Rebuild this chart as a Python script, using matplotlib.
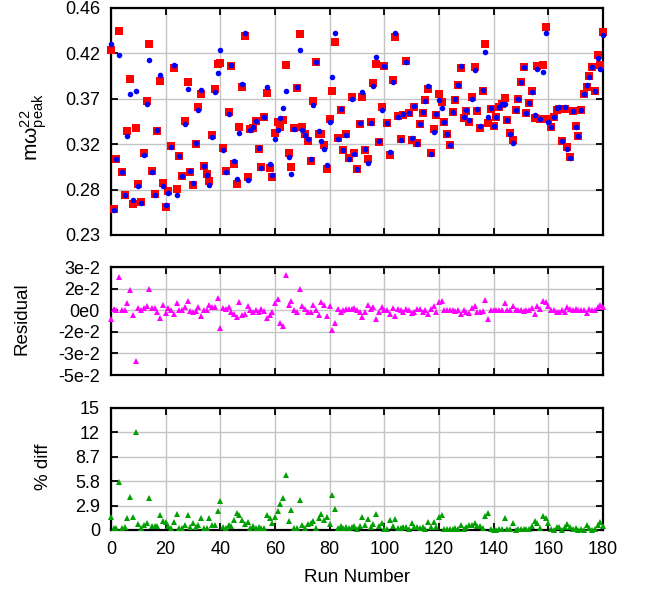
import matplotlib
matplotlib.use('Agg')
import matplotlib.pyplot as plt

plt.rcParams['font.family'] = ['Liberation Sans', 'DejaVu Sans']
plt.rcParams['mathtext.fontset'] = 'custom'
plt.rcParams['mathtext.rm'] = 'Liberation Sans'
plt.rcParams['mathtext.it'] = 'Liberation Sans'

runs = list(range(181))

# red squares (series 1)
red_vals = [
    0.4171, 0.2560, 0.3067, 0.4367, 0.2935, 0.2706, 0.3357, 0.3877, 0.2614, 0.3380,
    0.2814, 0.2630, 0.3134, 0.3654, 0.4232, 0.2952, 0.2716, 0.3354, 0.3857, 0.2830,
    0.2584, 0.2750, 0.3198, 0.3989, 0.2763, 0.3100, 0.2898, 0.3455, 0.3850, 0.2942,
    0.2807, 0.3222, 0.3597, 0.3725, 0.3000, 0.2915, 0.2847, 0.3317, 0.3776, 0.4029,
    0.4040, 0.3178, 0.2952, 0.3550, 0.4012, 0.3016, 0.2814, 0.3391, 0.3796, 0.4316,
    0.2888, 0.3371, 0.3381, 0.3455, 0.3172, 0.2986, 0.3492, 0.3735, 0.2979, 0.2888,
    0.3330, 0.3442, 0.3394, 0.3465, 0.4019, 0.3128, 0.2986, 0.3384, 0.3790, 0.4333,
    0.3391, 0.3320, 0.3256, 0.3050, 0.3654, 0.4053, 0.3320, 0.3320, 0.3209, 0.2969,
    0.3475, 0.3759, 0.4252, 0.3280, 0.3567, 0.3161, 0.3320, 0.3077, 0.3695, 0.3134,
    0.2966, 0.3421, 0.3695, 0.3158, 0.3067, 0.3448, 0.3837, 0.4033, 0.3239, 0.3594,
    0.4012, 0.3435, 0.3110, 0.3867, 0.4303, 0.3506, 0.3270, 0.3512, 0.4060, 0.3533,
    0.3263, 0.3594, 0.3229, 0.3428, 0.3533, 0.3665, 0.3779, 0.3134, 0.3374, 0.3519,
    0.3725, 0.3648, 0.3442, 0.3323, 0.3212, 0.3547, 0.3668, 0.3820, 0.3989, 0.3490,
    0.3557, 0.3445, 0.3695, 0.3999, 0.3557, 0.3384, 0.3759, 0.4232, 0.3431, 0.3580,
    0.3405, 0.3496, 0.3594, 0.3624, 0.3685, 0.3465, 0.3330, 0.3263, 0.3567, 0.3678,
    0.3850, 0.3999, 0.3533, 0.3638, 0.3763, 0.3489, 0.4012, 0.3479, 0.4019, 0.4404,
    0.3476, 0.3394, 0.3496, 0.3567, 0.3580, 0.3249, 0.3580, 0.3195, 0.3094, 0.3560,
    0.3404, 0.3303, 0.3567, 0.3725, 0.3796, 0.3908, 0.3999, 0.3759, 0.4120, 0.4023,
    0.4353,
]

# blue circles (series 2)
blue_vals = [
    0.4233, 0.2553, 0.3067, 0.4119, 0.2935, 0.2706, 0.3307, 0.3724, 0.2651, 0.3756,
    0.2794, 0.2625, 0.3114, 0.3624, 0.4072, 0.2937, 0.2701, 0.3364, 0.3917, 0.2795,
    0.2604, 0.2730, 0.3193, 0.4019, 0.2706, 0.3100, 0.2898, 0.3428, 0.3780, 0.2947,
    0.2824, 0.3229, 0.3570, 0.3765, 0.2995, 0.2910, 0.2807, 0.3292, 0.3751, 0.3939,
    0.4170, 0.3163, 0.2942, 0.3523, 0.4022, 0.3046, 0.2864, 0.3331, 0.3833, 0.4343,
    0.2858, 0.3366, 0.3391, 0.3455, 0.3182, 0.2979, 0.3499, 0.3795, 0.3016, 0.2905,
    0.3276, 0.3362, 0.3487, 0.3585, 0.3759, 0.3091, 0.2916, 0.3379, 0.3800, 0.4176,
    0.3361, 0.3313, 0.3273, 0.3067, 0.3614, 0.4053, 0.3357, 0.3256, 0.3169, 0.3009,
    0.3445, 0.3902, 0.4348, 0.3270, 0.3577, 0.3161, 0.3310, 0.3067, 0.3683, 0.3117,
    0.2966, 0.3438, 0.3744, 0.3175, 0.3030, 0.3436, 0.3810, 0.4099, 0.3254, 0.3567,
    0.4012, 0.3435, 0.3140, 0.3850, 0.4347, 0.3499, 0.3265, 0.3524, 0.4048, 0.3535,
    0.3283, 0.3606, 0.3217, 0.3421, 0.3545, 0.3660, 0.3809, 0.3122, 0.3342, 0.3531,
    0.3663, 0.3582, 0.3444, 0.3325, 0.3214, 0.3545, 0.3675, 0.3822, 0.4014, 0.3492,
    0.3569, 0.3465, 0.3675, 0.3969, 0.3572, 0.3401, 0.3766, 0.4158, 0.3493, 0.3582,
    0.3405, 0.3496, 0.3594, 0.3626, 0.3628, 0.3467, 0.3328, 0.3233, 0.3567, 0.3680,
    0.3852, 0.4004, 0.3535, 0.3640, 0.3746, 0.3519, 0.3978, 0.3472, 0.3953, 0.4342,
    0.3446, 0.3396, 0.3496, 0.3582, 0.3592, 0.3249, 0.3592, 0.3173, 0.3082, 0.3555,
    0.3397, 0.3303, 0.3562, 0.3725, 0.3816, 0.3901, 0.3999, 0.3757, 0.4095, 0.3983,
    0.4331,
]

residual = [
    -0.0062, 0.0007, 0.0, 0.0248, 0.0, 0.0, 0.005, 0.0153, -0.0037, -0.0376,
    0.002, 0.0005, 0.002, 0.003, 0.016, 0.0015, 0.0015, -0.001, -0.006, 0.0035,
    -0.002, 0.002, 0.0005, -0.003, 0.0057, 0.0, 0.0, 0.0027, 0.007, -0.0005,
    -0.0017, -0.0007, 0.0027, -0.004, 0.0005, 0.0005, 0.004, 0.0025, 0.0025, 0.009,
    -0.013, 0.0015, 0.001, 0.0027, -0.001, -0.003, -0.005, 0.006, -0.0037, -0.0027,
    0.003, 0.0005, -0.001, 0.0, -0.001, 0.0007, -0.0007, -0.006, -0.0037, -0.0017,
    0.0054, 0.008, -0.0093, -0.012, 0.026, 0.0037, 0.007, 0.0005, -0.001, 0.0157,
    0.003, 0.0007, -0.0017, -0.0017, 0.004, 0.0, -0.0037, 0.0064, 0.004, -0.004,
    0.003, -0.0143, -0.0096, 0.001, -0.001, 0.0, 0.001, 0.001, 0.0012, 0.0017,
    0.0, -0.0017, -0.0049, -0.0017, 0.0037, 0.0012, 0.0027, -0.0066, -0.0015, 0.0027,
    0.0, 0.0, -0.003, 0.0017, -0.0044, 0.0007, 0.0005, -0.0012, 0.0012, -0.0002,
    -0.002, -0.0012, 0.0012, 0.0007, -0.0012, 0.0005, -0.003, 0.0012, 0.0032, -0.0012,
    0.0062, 0.0066, -0.0002, -0.0002, -0.0002, 0.0002, -0.0007, -0.0002, -0.0025, -0.0002,
    -0.0012, -0.002, 0.002, 0.003, -0.0015, -0.0017, -0.0007, 0.0074, -0.0062, -0.0002,
    0.0, 0.0, 0.0, -0.0002, 0.0057, -0.0002, 0.0002, 0.003, 0.0, -0.0002,
    -0.0002, -0.0005, -0.0002, -0.0002, 0.0017, -0.003, 0.0034, 0.0007, 0.0066, 0.0062,
    0.003, -0.0002, 0.0, -0.0015, -0.0012, 0.0, -0.0012, 0.0022, 0.0012, 0.0005,
    0.0007, 0.0, 0.0005, 0.0, -0.002, 0.0007, 0.0, 0.0002, 0.0025, 0.004,
    0.0022,
]

pct_diff = [
    1.58, 0.28, 0.24, 5.7, 0.24, 0.4, 1.4, 3.95, 1.6, 11.6,
    0.75, 0.24, 0.6, 0.83, 3.8, 0.43, 0.43, 0.47, 1.74, 1.07,
    1.0, 0.47, 0.2, 1.0, 1.94, 0.2, 0.2, 0.63, 1.78, 0.3,
    0.87, 0.3, 0.63, 1.38, 0.24, 0.2, 1.38, 0.55, 0.55, 2.2,
    3.5, 0.36, 0.28, 0.63, 0.47, 1.2, 2.0, 1.78, 1.2, 0.67,
    1.0, 0.24, 0.5, 0.2, 0.4, 0.24, 0.24, 1.8, 1.38, 0.8,
    1.6, 2.2, 3.04, 3.75, 6.55, 1.1, 2.37, 0.2, 0.2, 3.6,
    0.63, 0.24, 0.75, 0.8, 1.07, 0.2, 1.42, 1.9, 1.14, 1.6,
    0.75, 4.15, 2.5, 0.28, 0.47, 0.2, 0.36, 0.24, 0.3, 0.5,
    0.1, 0.5, 1.5, 0.6, 1.26, 0.4, 0.7, 1.9, 0.5, 0.8,
    0.1, 0.1, 1.2, 0.5, 1.3, 0.2, 0.2, 0.4, 0.3, 0.1,
    0.87, 0.35, 0.4, 0.2, 0.35, 0.15, 1.0, 0.4, 1.0, 0.35,
    1.54, 1.74, 0.1, 0.1, 0.1, 0.1, 0.2, 0.1, 0.65, 0.1,
    0.35, 0.6, 0.55, 0.8, 0.45, 0.5, 0.2, 1.66, 2.05, 0.1,
    0.05, 0.05, 0.1, 0.1, 1.46, 0.1, 0.1, 0.87, 0.05, 0.1,
    0.1, 0.15, 0.1, 0.1, 0.45, 1.1, 0.8, 0.2, 1.66, 1.46,
    0.8, 0.1, 0.05, 0.4, 0.35, 0.05, 0.35, 0.7, 0.4, 0.15,
    0.2, 0.05, 0.15, 0.05, 0.55, 0.2, 0.05, 0.1, 0.63, 1.0,
    0.5,
]

x_ticks = [0, 20, 40, 60, 80, 100, 120, 140, 160, 180]

top_ticks = [0.23, 0.276, 0.322, 0.368, 0.414, 0.46]
top_labels = ['0.23', '0.28', '0.32', '0.37', '0.42', '0.46']
res_ticks = [-0.048, -0.032, -0.016, 0.0, 0.016, 0.032]
res_labels = ['-5e-2', '-3e-2', '-2e-2', '0e0', '2e-2', '3e-2']
pct_ticks = [0, 2.9, 5.8, 8.7, 11.6, 14.5]
pct_labels = ['0', '2.9', '5.8', '8.7', '12', '15']

W, H = 651, 593
fig = plt.figure(figsize=(W / 100, H / 100), dpi=100)


def px_axes(left, top, right, bottom):
    return fig.add_axes([left / W, 1 - bottom / H, (right - left) / W, (bottom - top) / H])


def style(ax, yticks, ylabels, ylim, show_x):
    ax.set_xlim(0, 180)
    ax.set_ylim(*ylim)
    ax.set_xticks(x_ticks)
    ax.set_yticks(yticks)
    ax.set_yticklabels(ylabels)
    if not show_x:
        ax.set_xticklabels([])
    ax.tick_params(direction='in', length=5, width=1.3, top=True, right=True,
                   labelsize=13, pad=8, colors='black')
    ax.grid(True, color='#c4c4c4', linewidth=1.0)
    ax.set_axisbelow(True)
    for s in ax.spines.values():
        s.set_linewidth(1.6)


ax1 = px_axes(111, 8, 603, 235)
ax1.plot(runs, red_vals, 's', color='#ff0000', ms=5.2, mew=0, clip_on=False, zorder=3)
ax1.plot(runs, blue_vals, 'o', color='#0000ff', ms=4.0, mew=0, clip_on=False, zorder=4)
style(ax1, top_ticks, top_labels, (0.23, 0.46), False)

ax2 = px_axes(111, 267, 603, 375)
ax2.plot(runs, residual, '^', color='#ff00ff', ms=4.4, mew=0, clip_on=False, zorder=3)
style(ax2, res_ticks, res_labels, (-0.048, 0.032), False)

ax3 = px_axes(111, 408, 603, 530)
ax3.plot(runs, pct_diff, '^', color='#00a000', ms=4.4, mew=0, clip_on=False, zorder=3)
style(ax3, pct_ticks, pct_labels, (0, 14.5), True)

fig.text(34 / W, 1 - 127 / H, r'$\mathrm{m\omega^{22}_{peak}}$', rotation=90,
         ha='center', va='center', fontsize=15)
fig.text(22 / W, 1 - 319 / H, 'Residual', rotation=90, ha='center', va='center', fontsize=13.5)
fig.text(44 / W, 1 - 467 / H, '% diff', rotation=90, ha='center', va='center', fontsize=13.5)
fig.text(357 / W, 1 - 578 / H, 'Run Number', ha='center', va='center', fontsize=13.5)

fig.savefig('out.png', dpi=100)
